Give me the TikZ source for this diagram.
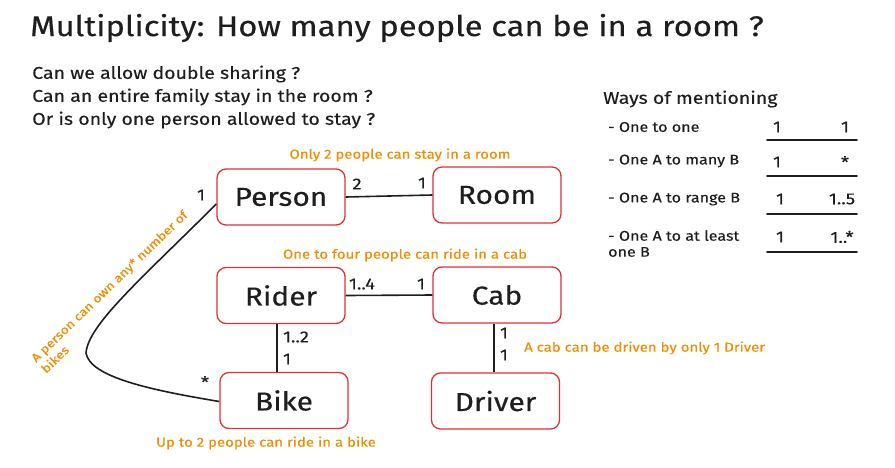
\documentclass[tikz,border=0pt]{standalone}
\usepackage{fontspec}
\setmainfont{Fira Sans}[FakeStretch=1.15,FakeBold=0.3]
\definecolor{boxred}{HTML}{E03131}
\definecolor{noteor}{HTML}{F08C00}
\definecolor{ink}{HTML}{1E1E1E}
\begin{document}
\begin{tikzpicture}[x=1pt,y=-1pt,
  entity/.style={draw=boxred, line width=1.3pt, rounded corners=9pt, minimum width=128pt, minimum height=56pt, inner sep=0pt, text=ink, font=\fontsize{26}{30}\selectfont},
  note/.style={text=noteor, inner sep=0pt, font=\fontsize{13}{15}\selectfont},
  mult/.style={text=ink, inner sep=0pt, font=\fontsize{16}{18}\selectfont},
  plain/.style={text=ink, inner sep=0pt, anchor=west},
  link/.style={draw=ink, line width=1.6pt},
  uline/.style={draw=ink, line width=1.6pt, line cap=round}]
\useasboundingbox (0,0) rectangle (895,467);
% title and questions
\node[plain, font=\fontsize{28.5}{32}\selectfont] (title) at (30,28) {Multiplicity: How many people can be in a room ?};
\node[plain, font=\fontsize{17}{20}\selectfont] (q1) at (32,74) {Can we allow double sharing ?};
\node[plain, font=\fontsize{17}{20}\selectfont] (q2) at (32,97) {Can an entire family stay in the room ?};
\node[plain, font=\fontsize{17}{20}\selectfont] (q3) at (32,120) {Or is only one person allowed to stay ?};
% entities
\node[entity] (person) at (281,197) {Person};
\node[entity] (room) at (497,195) {Room};
\node[entity] (rider) at (281,295.5) {Rider};
\node[entity] (cab) at (497,295) {Cab};
\node[entity] (bike) at (284,400.5) {Bike};
\node[entity] (driver) at (495.5,401) {Driver};
% links
\draw[link] (person.east) -- (room.west);
\draw[link] (rider.east) -- (cab.west);
\draw[link] ([xshift=-4pt]rider.south) -- ([xshift=-7pt]bike.north);
\draw[link] ([xshift=-3pt]cab.south) -- ([xshift=-1.5pt]driver.north);
\coordinate (bend) at (86,353);
\draw[link] ([yshift=-7pt]person.west) .. controls (140,280) and (88,325) .. (bend)
   .. controls (90,377) and (150,390) .. ([yshift=-1pt]bike.west);
% multiplicities
\node[mult] (m1) at (357,184) {2};
\node[mult] (m2) at (422,183) {1};
\node[mult] (m3) at (362,284) {1..4};
\node[mult] (m4) at (421,284) {1};
\node[mult] (m5) at (296,337) {1..2};
\node[mult] (m6) at (287,359) {1};
\node[mult] (m7) at (504,333) {1};
\node[mult] (m8) at (504,355) {1};
\node[mult] (m9) at (201,195) {1};
\node[mult] (m10) at (205,382) {*};
% notes
\node[note] (n1) at (400,155) {Only 2 people can stay in a room};
\node[note] (n2) at (405,255) {One to four people can ride in a cab};
\node[note, anchor=west] (n3) at (524,348) {A cab can be driven by only 1 Driver};
\node[note] (n4) at (266,443) {Up to 2 people can ride in a bike};
\node[note, font=\fontsize{12}{14}\selectfont, rotate=44, anchor=base west] (n5) at (36,363) {A person can own any* number of};
\node[note, font=\fontsize{12}{14}\selectfont, rotate=44, anchor=base west] (n6) at (46,374) {bikes};
% table
\node[plain, font=\fontsize{17}{20}\selectfont] (ways) at (603,99) {Ways of mentioning};
\begin{scope}[every node/.style={plain, font=\fontsize{14}{16}\selectfont}]
\node (r1) at (608,127) {- One to one};
\node (r2) at (608,161) {- One A to many B};
\node (r3) at (608,199) {- One A to range B};
\node[align=left, anchor=north west] (r4) at (608,230) {- One A to at least\\one B};
\end{scope}
\begin{scope}[every node/.style={mult, font=\fontsize{16}{18}\selectfont}]
\node (a1) at (777,127) {1};
\node (b1) at (845,127) {1};
\node (a2) at (777,162) {1};
\node (b2) at (845,162) {*};
\node (a3) at (780,199) {1};
\node (b3) at (842,199) {1..5};
\node (a4) at (780,237) {1};
\node (b4) at (842,237) {1..*};
\end{scope}
\draw[uline] (767,140) -- (857,140);
\draw[uline] (767,176) -- (857,176);
\draw[uline] (767,214) -- (857,214);
\draw[uline] (767,252) -- (857,252);
\end{tikzpicture}
\end{document}
